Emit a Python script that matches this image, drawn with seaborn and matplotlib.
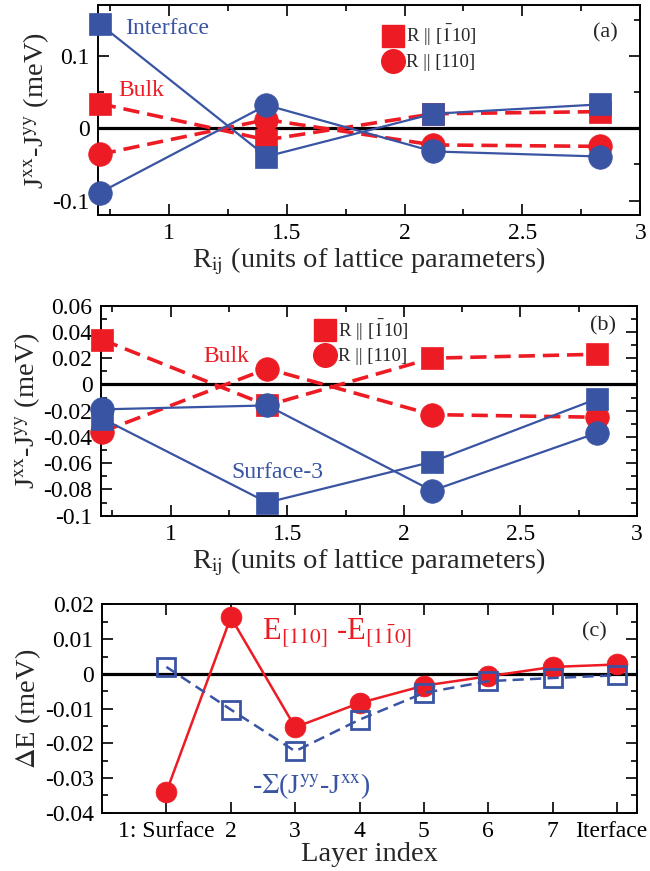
import numpy as np
import pandas as pd
import matplotlib
matplotlib.use("Agg")
import matplotlib.pyplot as plt
import matplotlib.transforms as mtransforms
from matplotlib.lines import Line2D
from matplotlib.ticker import MultipleLocator, FixedLocator, FixedFormatter
import seaborn as sns

# neighbour distance R_ij (units of lattice parameters)
r_ij = [0.707, 1.414, 2.121, 2.828]

# panel (a): interface layer, R || [-110] (squares) and R || [110] (circles)
interface_sq = [0.144, -0.039, 0.020, 0.033]
interface_ci = [-0.089, 0.032, -0.032, -0.039]

# bulk (shown in (a) and (b))
bulk_sq = [0.034, -0.016, 0.020, 0.023]
bulk_ci = [-0.036, 0.012, -0.023, -0.025]

# panel (b): surface-3
surf3_sq = [-0.026, -0.090, -0.059, -0.011]
surf3_ci = [-0.019, -0.016, -0.081, -0.037]

# panel (c): energy difference per layer
layers = [1, 2, 3, 4, 5, 6, 7, 8]
layer_labels = ["1: Surface", "2", "3", "4", "5", "6", "7", "Iterface"]
dE = [-0.034, 0.0163, -0.0154, -0.0084, -0.0034, -0.0007, 0.0020, 0.0027]
sum_J = [0.002, -0.0103, -0.0223, -0.0132, -0.0055, -0.0021, -0.0012, -0.0004]

# tick labels
r_ticks = [1, 1.5, 2, 2.5, 3]
r_ticklabels = ["1", "1.5", "2", "2.5", "3"]
a_yticks = [-0.1, 0, 0.1]
a_yticklabels = ["-0.1", "0", "0.1"]
b_yticks = [-0.1, -0.08, -0.06, -0.04, -0.02, 0, 0.02, 0.04, 0.06]
b_yticklabels = ["-0.1", "-0.08", "-0.06", "-0.04", "-0.02", "0", "0.02", "0.04", "0.06"]
c_yticks = [-0.04, -0.03, -0.02, -0.01, 0, 0.01, 0.02]
c_yticklabels = ["-0.04", "-0.03", "-0.02", "-0.01", "0", "0.01", "0.02"]

red = "#ed1c24"
blue = "#3a54a4"

sns.set_style("ticks")
plt.rcParams["font.family"] = ["Liberation Serif", "DejaVu Serif"]
plt.rcParams["mathtext.fontset"] = "stix"
plt.rcParams["axes.unicode_minus"] = False

fig = plt.figure(figsize=(6.5, 8.71), dpi=100)
ax_a = fig.add_axes([0.151, 0.753, 0.834, 0.241])
ax_b = fig.add_axes([0.155, 0.408, 0.825, 0.241])
ax_c = fig.add_axes([0.157, 0.067, 0.823, 0.239])


def style_axes(ax):
    ax.tick_params(which="both", direction="in", top=True, right=True,
                   width=1.2, labelsize=17, pad=6, colors="black")
    ax.tick_params(which="major", length=8)
    ax.tick_params(which="minor", length=4)
    for s in ax.spines.values():
        s.set_linewidth(1.4)
        s.set_color("black")


def j_series(ax, y, color, marker, ls, lw):
    ms = 16 if marker == "s" else 17
    sns.lineplot(x=r_ij, y=y, ax=ax, color=color, marker=marker, markersize=ms,
                 markeredgecolor=color, markeredgewidth=0.5, linewidth=lw,
                 linestyle=ls, zorder=3, clip_on=False)


dash = (0, (4.5, 2.2))
leg_handles = [Line2D([], [], ls="none", marker="s", color=red, ms=16),
               Line2D([], [], ls="none", marker="o", color=red, ms=17)]
leg_labels = [r"R || [$\bar{1}$10]", "R || [110]"]

# ---- panel (a)
ax_a.axhline(0, color="black", lw=2.3, zorder=2)
j_series(ax_a, bulk_sq, red, "s", dash, 2.6)
j_series(ax_a, bulk_ci, red, "o", dash, 2.6)
j_series(ax_a, interface_sq, blue, "s", "-", 1.6)
j_series(ax_a, interface_ci, blue, "o", "-", 1.6)
ax_a.set_xlim(0.7, 3)
ax_a.set_ylim(-0.12, 0.17)
ax_a.yaxis.set_major_locator(FixedLocator(a_yticks))
ax_a.yaxis.set_major_formatter(FixedFormatter(a_yticklabels))
ax_a.yaxis.set_minor_locator(MultipleLocator(0.05))
ax_a.text(0.05, 0.89, "Interface", color=blue, fontsize=17, transform=ax_a.transAxes, va="center")
ax_a.text(0.037, 0.595, "Bulk", color=red, fontsize=17, transform=ax_a.transAxes, va="center")
ax_a.text(0.935, 0.87, "(a)", fontsize=16, transform=ax_a.transAxes, ha="center", va="center")
ax_a.legend(leg_handles, leg_labels, loc="upper left", bbox_to_anchor=(0.505, 0.96),
            frameon=False, fontsize=13.5, handletextpad=0.1, labelspacing=0.3,
            handlelength=1.2, borderpad=0)

# ---- panel (b)
ax_b.axhline(0, color="black", lw=2.3, zorder=2)
j_series(ax_b, bulk_sq, red, "s", dash, 2.6)
j_series(ax_b, bulk_ci, red, "o", dash, 2.6)
j_series(ax_b, surf3_sq, blue, "s", "-", 1.6)
j_series(ax_b, surf3_ci, blue, "o", "-", 1.6)
ax_b.set_xlim(0.7, 3)
ax_b.set_ylim(-0.1, 0.06)
ax_b.yaxis.set_major_locator(FixedLocator(b_yticks))
ax_b.yaxis.set_major_formatter(FixedFormatter(b_yticklabels))
ax_b.yaxis.set_minor_locator(MultipleLocator(0.01))
ax_b.text(0.192, 0.757, "Bulk", color=red, fontsize=17, transform=ax_b.transAxes, va="center")
ax_b.text(0.244, 0.205, "Surface-3", color=blue, fontsize=17, transform=ax_b.transAxes, va="center")
ax_b.text(0.936, 0.905, "(b)", fontsize=16, transform=ax_b.transAxes, ha="center", va="center")
ax_b.legend(leg_handles, leg_labels, loc="upper left", bbox_to_anchor=(0.38, 0.99),
            frameon=False, fontsize=13.5, handletextpad=0.1, labelspacing=0.3,
            handlelength=1.2, borderpad=0)

for ax in (ax_a, ax_b):
    ax.xaxis.set_major_locator(FixedLocator(r_ticks))
    ax.xaxis.set_major_formatter(FixedFormatter(r_ticklabels))
    ax.xaxis.set_minor_locator(MultipleLocator(0.25))
    ax.set_xlabel(r"R$_{\rm ij}$ (units of lattice parameters)", fontsize=20.5, labelpad=1)
    ax.set_ylabel(r"J$^{\rm xx}$-J$^{\rm yy}$ (meV)", fontsize=20.5, labelpad=1)
    style_axes(ax)

# ---- panel (c)
ax_c.axhline(0, color="black", lw=2.3, zorder=2)
sns.lineplot(x=layers, y=dE, ax=ax_c, color=red, marker="o", markersize=15,
             markeredgecolor=red, markeredgewidth=0.5, linewidth=1.8, zorder=3)
sns.lineplot(x=layers, y=sum_J, ax=ax_c, color=blue, marker="s", markersize=13.5,
             markerfacecolor="none", markeredgecolor=blue, markeredgewidth=2,
             linewidth=1.8, linestyle=(0, (4.5, 2.5)), zorder=4)
ax_c.set_xlim(0, 8.31)
ax_c.set_ylim(-0.04, 0.02)
ax_c.xaxis.set_major_locator(FixedLocator(layers))
ax_c.xaxis.set_major_formatter(FixedFormatter(layer_labels))
ax_c.yaxis.set_major_locator(FixedLocator(c_yticks))
ax_c.yaxis.set_major_formatter(FixedFormatter(c_yticklabels))
ax_c.yaxis.set_minor_locator(MultipleLocator(0.005))
ax_c.set_xlabel("Layer index", fontsize=20.5, labelpad=0)
ax_c.set_ylabel(r"$\Delta$E (meV)", fontsize=20.5, labelpad=1)
ax_c.text(0.299, 0.827, r"E$_{\rm [110]}$ -E$_{\rm [1\bar{1}0]}$", color=red, fontsize=22,
          transform=ax_c.transAxes, va="baseline")
ax_c.text(0.28, 0.096, r"-$\Sigma$(J$^{\rm yy}$-J$^{\rm xx}$)", color=blue, fontsize=20,
          transform=ax_c.transAxes, va="baseline")
ax_c.text(0.92, 0.87, "(c)", fontsize=16, transform=ax_c.transAxes, ha="center", va="center")
style_axes(ax_c)

# keep the last layer label inside the figure
last = ax_c.get_xticklabels()[-1]
last.set_transform(last.get_transform() + mtransforms.ScaledTranslation(-6 / 100, 0, fig.dpi_scale_trans))

fig.savefig("out.png", dpi=100)
